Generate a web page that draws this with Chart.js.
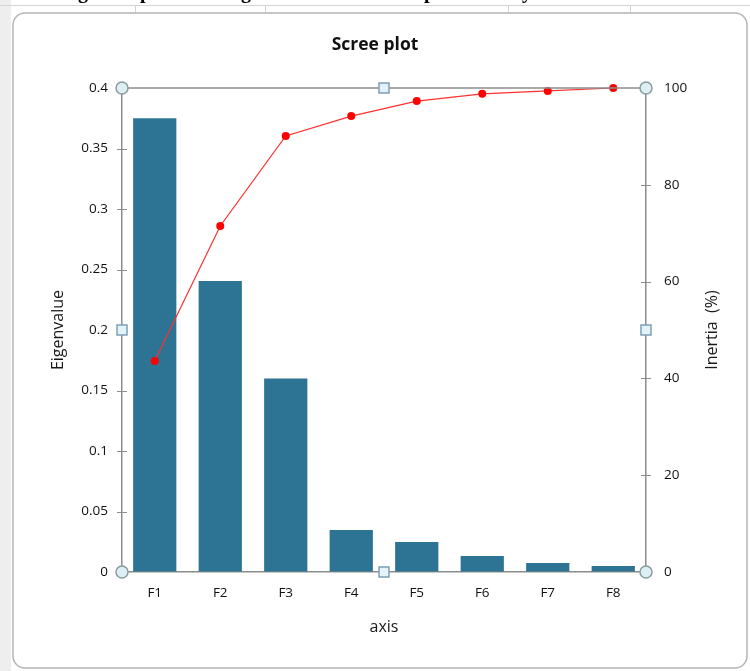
<!DOCTYPE html>
<html>
<head>
<meta charset="utf-8">
<title>Scree plot</title>
<script src="https://cdn.jsdelivr.net/npm/chart.js@4"></script>
<style>
  html, body { margin: 0; padding: 0; background: #ffffff; overflow: hidden; }
  #wrap { position: relative; width: 750px; height: 671px; }
  #chart { position: absolute; left: 0; top: 0; }
  /* bas de la ligne de texte coupée au-dessus du graphique */
  .cut { position: absolute; top: -19px; font: bold 20px "Liberation Serif", serif; line-height: 20px; color: #000; }
</style>
</head>
<body>
<div id="wrap">
  <canvas id="chart" width="750" height="671"></canvas>
  <span class="cut" style="left:78px">g</span>
  <span class="cut" style="left:140px">p</span>
  <span class="cut" style="left:241px">g</span>
  <span class="cut" style="left:424px">p</span>
  <span class="cut" style="left:522px">y</span>
</div>
<script>
// Données
const axes = ['F1', 'F2', 'F3', 'F4', 'F5', 'F6', 'F7', 'F8'];
const eigenvalues = [0.375, 0.2405, 0.160, 0.0347, 0.0248, 0.0132, 0.0074, 0.005];
const cumulInertia = [43.6, 71.5, 90.1, 94.2, 97.3, 98.8, 99.4, 100];
const eigenMax = 0.4, eigenStep = 0.05;
const inertiaMax = 100, inertiaStep = 20;

const axisGrey = '#8c8c8c';
const fontFamily = '"Open Sans", "DejaVu Sans", sans-serif';

// Fond façon feuille Excel + cadre arrondi du graphique
const fondPlugin = {
    id: 'fond',
    beforeDraw(chart) {
        const ctx = chart.ctx;
        ctx.save();
        ctx.fillStyle = '#ffffff';
        ctx.fillRect(0, 0, 750, 671);
        ctx.fillStyle = '#eeeeee';
        ctx.fillRect(0, 0, 11, 671);
        ctx.strokeStyle = '#d4d4d4';
        ctx.lineWidth = 1;
        ctx.beginPath();
        ctx.moveTo(0, 5.5); ctx.lineTo(750, 5.5);
        [135, 265, 508, 630].forEach(function (x) {
            ctx.moveTo(x + 0.5, 5); ctx.lineTo(x + 0.5, 13);
        });
        ctx.stroke();
        // cadre
        ctx.strokeStyle = '#b5b5b5';
        ctx.lineWidth = 1.5;
        ctx.beginPath();
        ctx.roundRect(13, 13, 734, 655, 12);
        ctx.stroke();
        ctx.restore();
    }
};

// Bordure haute, graduations croisées, titre de droite et poignées de sélection
const decorPlugin = {
    id: 'decor',
    afterDatasetsDraw(chart) {
        const ctx = chart.ctx;
        const area = chart.chartArea;
        ctx.save();
        ctx.strokeStyle = axisGrey;
        ctx.lineWidth = 1.5;
        ctx.beginPath();
        ctx.moveTo(area.left, area.top);
        ctx.lineTo(area.right, area.top);
        ctx.stroke();

        ctx.lineWidth = 1;
        ['y', 'y2'].forEach(function (id) {
            const scale = chart.scales[id];
            const x = id === 'y' ? area.left : area.right;
            for (let i = 0; i < scale.ticks.length; i++) {
                const py = Math.round(scale.getPixelForTick(i)) + 0.5;
                ctx.beginPath();
                ctx.moveTo(x - 5, py);
                ctx.lineTo(x + 5, py);
                ctx.stroke();
            }
        });

        // titre de l'axe de droite, lu de bas en haut
        ctx.fillStyle = '#1a1a1a';
        ctx.font = '16px ' + fontFamily;
        ctx.textAlign = 'center';
        ctx.textBaseline = 'middle';
        ctx.translate(712, (area.top + area.bottom) / 2);
        ctx.rotate(-Math.PI / 2);
        ctx.fillText('Inertia  (%)', 0, 0);
        ctx.restore();
    },
    afterDraw(chart) {
        const ctx = chart.ctx;
        const a = chart.chartArea;
        const midX = (a.left + a.right) / 2;
        const midY = (a.top + a.bottom) / 2;
        ctx.save();
        ctx.lineWidth = 1.5;
        [[a.left, a.top], [a.right, a.top], [a.left, a.bottom], [a.right, a.bottom]].forEach(function (p) {
            ctx.beginPath();
            ctx.arc(p[0], p[1], 6, 0, Math.PI * 2);
            ctx.fillStyle = '#dcf0f4';
            ctx.fill();
            ctx.strokeStyle = '#8a9aa2';
            ctx.stroke();
        });
        [[midX, a.top], [midX, a.bottom], [a.left, midY], [a.right, midY]].forEach(function (p) {
            ctx.fillStyle = '#e4f2f9';
            ctx.fillRect(p[0] - 5, p[1] - 5, 10, 10);
            ctx.strokeStyle = '#7d9fb6';
            ctx.strokeRect(p[0] - 5, p[1] - 5, 10, 10);
        });
        ctx.restore();
    }
};

const tickFont = { family: fontFamily, size: 13.5 };

new Chart(document.getElementById('chart'), {
    type: 'bar',
    data: {
        labels: axes,
        datasets: [{
            type: 'line',
            label: 'Inertia (%)',
            data: cumulInertia,
            yAxisID: 'y2',
            borderColor: '#ff3030',
            borderWidth: 1.2,
            pointRadius: 4,
            pointBackgroundColor: '#ff0000',
            pointBorderColor: '#ff0000',
            pointBorderWidth: 0,
            clip: false,
            order: 0
        }, {
            type: 'bar',
            label: 'Eigenvalue',
            data: eigenvalues,
            yAxisID: 'y',
            backgroundColor: '#2c7394',
            barPercentage: 0.66,
            categoryPercentage: 1,
            order: 1
        }]
    },
    options: {
        responsive: false,
        animation: false,
        devicePixelRatio: 1,
        layout: { padding: 0 },
        plugins: {
            legend: { display: false },
            tooltip: { enabled: false },
            title: {
                display: true,
                text: 'Scree plot',
                color: '#111111',
                font: { family: fontFamily, size: 17.5, weight: 'bold' },
                padding: { top: 35, bottom: 32 }
            }
        },
        scales: {
            x: {
                grid: { drawOnChartArea: false, drawTicks: false },
                border: { color: axisGrey, width: 1.5 },
                ticks: { font: tickFont, color: '#111111', padding: 13 },
                title: {
                    display: true, text: 'axis', color: '#1a1a1a',
                    font: { family: fontFamily, size: 16 },
                    padding: { top: 0, bottom: 34 }
                },
                afterFit(scale) { scale.height = 99; }
            },
            y: {
                position: 'left',
                min: 0, max: eigenMax,
                grid: { drawOnChartArea: false, drawTicks: false },
                border: { color: axisGrey, width: 1.5 },
                ticks: {
                    stepSize: eigenStep, font: tickFont, color: '#111111', padding: 14,
                    callback: function (value) { return String(+value.toFixed(2)); }
                },
                title: {
                    display: true, text: 'Eigenvalue', color: '#1a1a1a',
                    font: { family: fontFamily, size: 16 },
                    padding: { top: 49, bottom: 0 }
                },
                afterFit(scale) { scale.width = 122; }
            },
            y2: {
                position: 'right',
                min: 0, max: inertiaMax,
                grid: { drawOnChartArea: false, drawTicks: false },
                border: { color: axisGrey, width: 1.5 },
                ticks: { stepSize: inertiaStep, font: tickFont, color: '#111111', padding: 18 },
                afterFit(scale) { scale.width = 104; }
            }
        }
    },
    plugins: [fondPlugin, decorPlugin]
});
</script>
</body>
</html>
